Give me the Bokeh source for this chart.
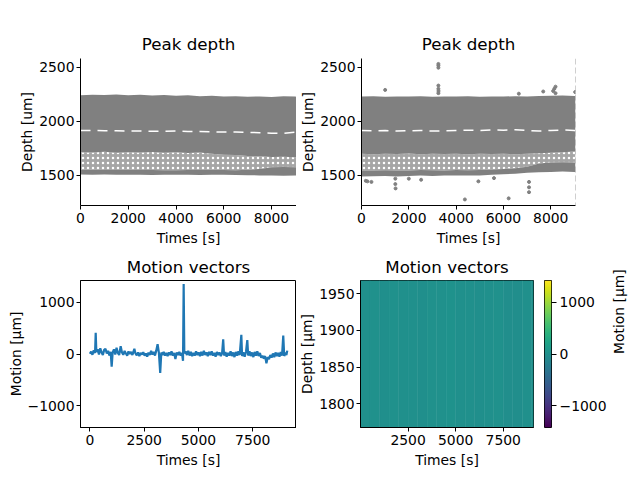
import numpy as np
from bokeh.plotting import figure
from bokeh.layouts import column, row
from bokeh.models import Span, FixedTicker, LinearColorMapper, ColumnDataSource
from bokeh.transform import linear_cmap
from bokeh.palettes import Viridis256
from bokeh.embed import file_html
from bokeh.resources import INLINE

# ---------------- data ----------------
duration = 9045

band_times = [0, 500, 1000, 1500, 2000, 2500, 3000, 3500, 4000, 4500, 5000,
              5500, 6000, 6500, 7000, 7500, 8000, 8500, 9000, 9045]

# left "Peak depth" panel
top_a = [2240, 2246, 2242, 2247, 2240, 2244, 2238, 2242, 2236, 2240, 2232,
         2236, 2228, 2232, 2226, 2230, 2224, 2232, 2228, 2226]
main_bottom_a = [1715, 1712, 1718, 1710, 1715, 1712, 1716, 1710, 1714, 1708, 1712,
                 1700, 1690, 1688, 1680, 1676, 1670, 1672, 1668, 1672]
streak_a = [1915, 1915, 1912, 1912, 1910, 1910, 1908, 1908, 1910, 1905, 1905,
            1902, 1900, 1900, 1898, 1895, 1890, 1888, 1900, 1905]
low_top_a = [1552, 1552, 1550, 1550, 1552, 1550, 1550, 1548, 1548, 1550, 1550,
             1552, 1550, 1548, 1552, 1560, 1575, 1578, 1575, 1575]
low_bottom_a = [1508, 1506, 1508, 1505, 1506, 1505, 1504, 1505, 1506, 1505, 1504,
                1505, 1506, 1504, 1502, 1500, 1498, 1496, 1498, 1500]

# right "Peak depth" panel
top_b = [2228, 2232, 2226, 2230, 2228, 2232, 2226, 2230, 2228, 2232, 2226,
         2230, 2228, 2232, 2230, 2234, 2236, 2238, 2234, 2232]
main_bottom_b = [1700, 1695, 1700, 1698, 1702, 1696, 1700, 1698, 1700, 1695, 1700,
                 1698, 1700, 1696, 1700, 1705, 1710, 1715, 1720, 1720]
streak_b = [1915, 1912, 1915, 1910, 1912, 1915, 1910, 1912, 1915, 1918, 1915,
            1920, 1918, 1922, 1915, 1910, 1915, 1920, 1915, 1912]
low_top_b = [1545, 1545, 1548, 1545, 1545, 1550, 1548, 1545, 1550, 1548, 1550,
             1555, 1560, 1565, 1580, 1610, 1620, 1622, 1620, 1620]
low_bottom_b = [1490, 1492, 1495, 1490, 1495, 1498, 1495, 1500, 1500, 1498, 1500,
                1505, 1510, 1515, 1525, 1530, 1532, 1535, 1532, 1530]

outlier_times_b = [3250, 3250, 3250, 3250, 3250, 3255, 3250, 1000, 8100, 8150,
                   8200, 8200, 7680, 6650, 9030, 4370, 6220, 7080, 7080, 7080,
                   1430, 1430, 1440, 250, 420, 2520, 4940, 180, 2000, 5600]
outlier_depths_b = [2530, 2515, 2495, 2330, 2300, 2280, 2260, 2290, 2280, 2300,
                    2320, 2260, 2275, 2255, 2270, 1278, 1288, 1440, 1390, 1345,
                    1470, 1420, 1380, 1445, 1440, 1460, 1445, 1450, 1470, 1475]

# motion vectors (one depth bin)
motion_times = [0, 60, 120, 180, 240, 270, 300, 360, 420, 480, 540, 600, 660, 720,
                780, 840, 900, 960, 1005, 1050, 1110, 1170, 1230, 1290, 1350, 1420,
                1480, 1540, 1600, 1660, 1720, 1780, 1840, 1900, 1960, 2050, 2100,
                2160, 2220, 2280, 2340, 2400, 2460, 2520, 2580, 2640, 2700, 2760,
                2820, 2880, 2940, 3000, 3060, 3120, 3180, 3240, 3290, 3340, 3400,
                3460, 3520, 3580, 3640, 3700, 3760, 3820, 3880, 3940, 4000, 4060,
                4120, 4180, 4240, 4290, 4320, 4350, 4410, 4470, 4530, 4590, 4650,
                4710, 4770, 4830, 4890, 4950, 5010, 5070, 5130, 5190, 5250, 5310,
                5370, 5430, 5490, 5550, 5610, 5670, 5730, 5790, 5850, 5910, 5970,
                6030, 6090, 6140, 6180, 6240, 6300, 6360, 6420, 6480, 6540, 6600,
                6660, 6720, 6780, 6840, 6900, 6975, 7010, 7070, 7130, 7190, 7250,
                7290, 7350, 7410, 7470, 7530, 7590, 7650, 7710, 7770, 7830, 7890,
                7950, 8010, 8070, 8130, 8190, 8250, 8310, 8370, 8430, 8490, 8550,
                8610, 8670, 8730, 8790, 8850, 8905, 8950, 9000, 9050, 9090]
motion_values = [5, 45, -15, 70, 20, 410, 40, 90, -10, 110, 30, -20, 80, 100,
                 10, 60, -30, 40, -245, 30, 90, -10, 120, 20, -20, 150,
                 30, -15, 60, 10, -30, 50, 0, 40, -20, 100, 10,
                 -25, 30, -40, 20, -10, 35, -30, 10, -50, 25, -20,
                 60, -10, 40, -30, 70, 190, 20, -365, 30, -20, 40,
                 -30, 20, -40, 30, -20, 50, -30, 20, -95, 30, -20,
                 40, -30, 20, -130, 1350, 10, 50, -20, 60, -30, 40,
                 -40, 20, -30, 50, -20, 30, -40, 40, -30, 60, -20,
                 30, -40, 40, -20, 50, -30, 20, -50, 40, -20, 30,
                 -40, 20, 285, -30, 40, -50, 20, -30, 50, -40, 30,
                 -60, 40, -30, 50, -20, 370, -40, 30, -50, 40, 270,
                 -30, 50, -40, 30, -60, 40, -30, 50, -40, 20, -70,
                 -30, -90, -40, -180, -60, -100, -20, -70, 10, -60, 30,
                 -40, 20, -50, 40, -30, 355, -40, 30, -20, 65]

# motion image (coarse time bins, one depth bin)
image_edges = [0, 500, 1000, 1500, 2000, 2500, 3000, 3500, 4000, 4500, 5000,
               5500, 6000, 6500, 7000, 7500, 8000, 8500, 9000, 9090]
image_motion = [5, 20, -10, 15, 0, 10, -5, 20, 15, 30, 0, 10, -10, 5, 15,
                -15, -20, 0, 10]
depth_bin_edges = [1768, 1968]
motion_lim = 1420

# ---------------- styling helpers ----------------
FONT = "DejaVu Sans"
GREY = "#808080"
BLUE = "#1f77b4"
TICK = "13.9px"


def style(p, box):
    for ax in list(p.xaxis) + list(p.yaxis):
        ax.axis_line_color = "black"
        ax.axis_line_width = 1
        ax.major_tick_line_color = "black"
        ax.major_tick_line_width = 1
        ax.major_tick_out = 4
        ax.major_tick_in = 0
        ax.minor_tick_line_color = None
        ax.major_label_text_font = FONT
        ax.major_label_text_font_size = TICK
        ax.major_label_text_color = "black"
        ax.axis_label_text_font = FONT
        ax.axis_label_text_font_size = TICK
        ax.axis_label_text_font_style = "normal"
        ax.axis_label_text_color = "black"
        ax.major_label_standoff = 2
        ax.axis_label_standoff = 1
    for ax in p.xaxis:
        ax.major_label_standoff = 3
        ax.axis_label_standoff = 4
    p.xgrid.visible = False
    p.ygrid.visible = False
    p.outline_line_color = "black" if box else None
    p.outline_line_width = 1
    p.background_fill_color = "white"
    p.border_fill_color = "white"
    if p.title is not None:
        p.title.text_font = FONT
        p.title.text_font_size = "16.7px"
        p.title.text_font_style = "normal"
        p.title.align = "center"
        p.title.text_color = "black"
        p.title.standoff = 9


def peak_panel(title, top, main_bottom, streak, low_top, low_bottom,
               out_t, out_d, left_border, frame_w, right_border):
    p = figure(title=title, output_backend="svg", toolbar_location=None,
               width=left_border + frame_w + right_border, height=58 + 147 + 45,
               min_border_left=left_border, min_border_right=right_border,
               min_border_top=58, min_border_bottom=45,
               x_range=(0, duration), y_range=(1222, 2580))
    src = ColumnDataSource(dict(t=band_times, top=top, mb=main_bottom, st=streak,
                                lt=low_top, lb=low_bottom))
    # sparse scatter zone between the bands: grey speckles with white holes
    p.varea(x="t", y1="lt", y2="mb", source=src, fill_color=GREY, fill_alpha=0.7,
            hatch_pattern="dot", hatch_color="white", hatch_scale=5, hatch_weight=3,
            hatch_alpha=1.0)
    # dense bands
    p.varea(x="t", y1="mb", y2="top", source=src, fill_color=GREY)
    p.varea(x="t", y1="lb", y2="lt", source=src, fill_color=GREY)
    p.line(x="t", y="st", source=src, line_color="white", line_width=1.5,
           line_dash="10 7")
    if out_t:
        p.scatter(out_t, out_d, size=3, color=GREY)
    p.add_layout(Span(location=duration, dimension="height", line_color="#a0a0a0",
                      line_dash="6 3", line_width=1))
    p.xaxis.axis_label = "Times [s]"
    p.yaxis.axis_label = "Depth [um]"
    p.xaxis.ticker = FixedTicker(ticks=[0, 2000, 4000, 6000, 8000])
    p.yaxis.ticker = FixedTicker(ticks=[1500, 2000, 2500])
    style(p, box=False)
    return p


p1 = peak_panel("Peak depth", top_a, main_bottom_a, streak_a, low_top_a, low_bottom_a,
                [], [], 80, 216, 0)
p2 = peak_panel("Peak depth", top_b, main_bottom_b, streak_b, low_top_b, low_bottom_b,
                outlier_times_b, outlier_depths_b, 65, 214, 65)

ROW2_H = 29 + 148 + 45

# motion trace
p3 = figure(title="Motion vectors", output_backend="svg", toolbar_location=None,
            width=80 + 216, height=ROW2_H, min_border_left=80, min_border_right=0,
            min_border_top=29, min_border_bottom=45,
            x_range=(-430, 9515), y_range=(-motion_lim, motion_lim))
p3.line(motion_times, motion_values, line_color=BLUE, line_width=2.2)
p3.xaxis.axis_label = "Times [s]"
p3.yaxis.axis_label = "Motion [μm]"
p3.xaxis.ticker = FixedTicker(ticks=[0, 2500, 5000, 7500])
p3.yaxis.ticker = FixedTicker(ticks=[-1000, 0, 1000])
p3.yaxis.major_label_overrides = {-1000: "−1000"}
style(p3, box=True)
p3.title.standoff = 8

# motion image (time x depth)
mapper = LinearColorMapper(palette=Viridis256, low=-motion_lim, high=motion_lim)
p4 = figure(title="Motion vectors", output_backend="svg", toolbar_location=None,
            width=64 + 173 + 11, height=ROW2_H, min_border_left=64, min_border_right=11,
            min_border_top=29, min_border_bottom=45,
            x_range=(0, image_edges[-1]), y_range=(depth_bin_edges[0], depth_bin_edges[1]))
qsrc = ColumnDataSource(dict(left=image_edges[:-1], right=image_edges[1:], m=image_motion))
cmap = linear_cmap("m", Viridis256, -motion_lim, motion_lim)
p4.quad(left="left", right="right", bottom=depth_bin_edges[0], top=depth_bin_edges[1],
        source=qsrc, fill_color=cmap, line_color=cmap, line_width=0.5)
p4.xaxis.axis_label = "Times [s]"
p4.yaxis.axis_label = "Depth [μm]"
p4.xaxis.ticker = FixedTicker(ticks=[2500, 5000, 7500])
p4.yaxis.ticker = FixedTicker(ticks=[1800, 1850, 1900, 1950])
style(p4, box=True)
p4.title.standoff = 8

# colour bar as its own small figure
cb = figure(output_backend="svg", toolbar_location=None,
            width=7 + 89, height=ROW2_H, min_border_left=0, min_border_right=89,
            min_border_top=29, min_border_bottom=45,
            x_range=(0, 1), y_range=(-motion_lim, motion_lim),
            x_axis_location=None, y_axis_location="right")
grad = np.linspace(-motion_lim, motion_lim, 256).reshape(256, 1)
cb.image(image=[grad], x=0, y=-motion_lim, dw=1, dh=2 * motion_lim, color_mapper=mapper)
cb.yaxis.axis_label = "Motion [μm]"
cb.yaxis.ticker = FixedTicker(ticks=[-1000, 0, 1000])
cb.yaxis.major_label_overrides = {-1000: "−1000"}
style(cb, box=True)
cb.yaxis.axis_line_color = None
cb.yaxis.major_tick_out = 5
cb.yaxis.major_label_standoff = 3
cb.yaxis.axis_label_orientation = float(np.pi / 2)
cb.yaxis.axis_label_standoff = 10

layout = column(row(p1, p2), row(p3, p4, cb))
open("out.html", "w").write(file_html(layout, INLINE))
